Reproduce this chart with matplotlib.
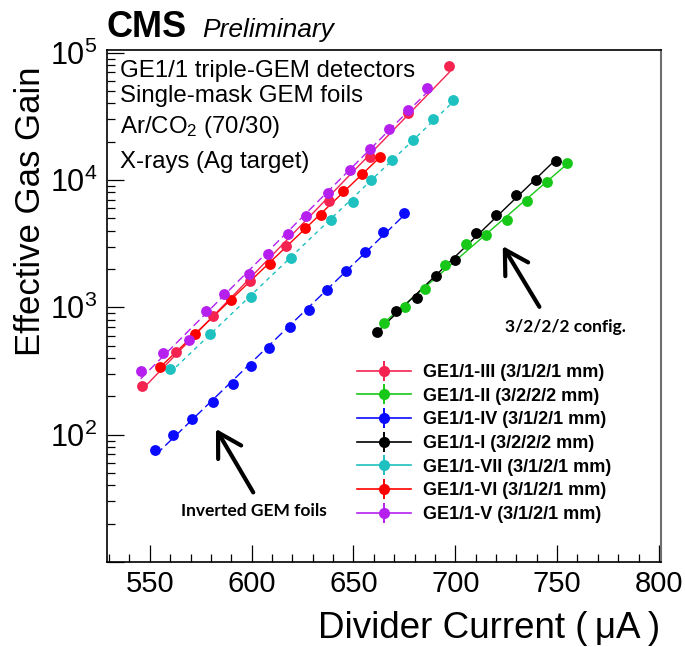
import numpy as np
import matplotlib
matplotlib.use("Agg")
import matplotlib.pyplot as plt
from matplotlib.lines import Line2D
from matplotlib.legend_handler import HandlerTuple
from matplotlib.ticker import LogLocator, MultipleLocator, NullFormatter, FixedLocator, FixedFormatter

plt.rcParams['font.family'] = ['Liberation Sans', 'DejaVu Sans']
plt.rcParams['mathtext.fontset'] = 'custom'
plt.rcParams['mathtext.rm'] = 'Liberation Sans'
plt.rcParams['mathtext.it'] = 'Liberation Sans:italic'
plt.rcParams['mathtext.bf'] = 'Liberation Sans:bold'

# ---- measured gain curves: divider current (uA) vs effective gas gain ----
ge3_current = [546, 563, 581, 599, 617, 638, 658, 677, 697]
ge3_gain = [243, 445, 860, 1610, 3030, 6840, 15100, 33400, 79300]

ge2_current = [665.2, 675.5, 685.3, 695.1, 705.3, 715.1, 725.2, 735.4, 744.9, 754.9]
ge2_gain = [755, 998, 1403, 2147, 3141, 3698, 4854, 6871, 9590, 13680]

ge4_current = [552.7, 561.5, 570.7, 580.8, 591.1, 599.7, 608.6, 618.8, 628.0, 637.0,
               646.3, 655.5, 664.6, 674.6]
ge4_gain = [76.4, 98.9, 132, 182, 251, 347, 481, 695, 951, 1374, 1926, 2702, 3926, 5475]

ge1_current = [661.4, 670.9, 681.0, 690.6, 700.0, 710.2, 720.0, 729.9, 739.7, 749.5]
ge1_gain = [641, 944, 1181, 1757, 2350, 3855, 5307, 7621, 10000, 14100]

ge7_current = [560.0, 579.6, 599.5, 619.5, 639.1, 649.6, 658.5, 669.0, 679.4, 688.9, 699.1]
ge7_gain = [325, 615, 1214, 2428, 4850, 6745, 9945, 14350, 20600, 30200, 42570]

ge6_current = [555, 572, 590, 609, 626, 634, 645, 654, 663]
ge6_gain = [340, 621, 1150, 2190, 4170, 5310, 8130, 11150, 15070]

ge5_current = [545.5, 556.3, 569.1, 577.6, 586.6, 598.7, 607.9, 617.7, 626.7, 637.3,
               648.2, 658.2, 667.3, 677.0, 686.0]
ge5_gain = [315, 438, 559, 937, 1262, 1833, 2604, 3761, 5237, 7855, 11880, 17540,
            25050, 35500, 53200]

labels = ["GE1/1-III (3/1/2/1 mm)", "GE1/1-II (3/2/2/2 mm)", "GE1/1-IV (3/1/2/1 mm)",
          "GE1/1-I (3/2/2/2 mm)", "GE1/1-VII (3/1/2/1 mm)", "GE1/1-VI (3/1/2/1 mm)",
          "GE1/1-V (3/1/2/1 mm)"]

x_ticks = [550, 600, 650, 700, 750, 800]
x_tick_labels = ["550", "600", "650", "700", "750", "800"]
y_ticks = [1e1, 1e2, 1e3, 1e4, 1e5]
y_tick_labels = ["", r"$10^{2}$", r"$10^{3}$", r"$10^{4}$", r"$10^{5}$"]

series = [
    (ge3_current, ge3_gain, "#f5234f", "-"),
    (ge2_current, ge2_gain, "#18c818", "-"),
    (ge4_current, ge4_gain, "#0a0aff", (0, (7, 3))),
    (ge1_current, ge1_gain, "#000000", "-"),
    (ge7_current, ge7_gain, "#1ec0c0", (0, (3, 3))),
    (ge6_current, ge6_gain, "#ff0000", "-"),
    (ge5_current, ge5_gain, "#b520ee", (0, (6, 3))),
]

W, H = 685, 647
fig = plt.figure(figsize=(W / 100, H / 100), dpi=100)
ax = fig.add_axes([107 / W, (H - 562) / H, (661 - 107) / W, (562 - 50) / H])

# exponential fit lines + measured points
for cur, gain, color, ls in series:
    cur = np.asarray(cur, float)
    gain = np.asarray(gain, float)
    coef = np.polyfit(cur, np.log10(gain), 1)
    xx = np.linspace(cur.min(), cur.max(), 100)
    ax.plot(xx, 10 ** np.polyval(coef, xx), color=color, ls=ls, lw=1.0, zorder=2)
for cur, gain, color, ls in series:
    ax.plot(cur, gain, 'o', color=color, ms=7.8, mew=0, zorder=3)

ax.set_yscale('log')
ax.set_xlim(529, 801)
ax.set_ylim(10, 1.05e5)

ax.xaxis.set_major_locator(FixedLocator(x_ticks))
ax.xaxis.set_major_formatter(FixedFormatter(x_tick_labels))
ax.xaxis.set_minor_locator(MultipleLocator(10))
ax.yaxis.set_major_locator(FixedLocator(y_ticks))
ax.yaxis.set_major_formatter(FixedFormatter(y_tick_labels))
ax.yaxis.set_minor_locator(LogLocator(base=10, subs=np.arange(2, 10)))
ax.yaxis.set_minor_formatter(NullFormatter())

ax.tick_params(which='both', direction='in', top=False, right=False, width=0.9)
ax.tick_params(which='major', length=12.5)
ax.tick_params(which='minor', length=6)
ax.tick_params(axis='x', labelsize=21, pad=6)
ax.tick_params(axis='y', labelsize=22, pad=7)
for s in ['left', 'bottom', 'top']:
    ax.spines[s].set_linewidth(1.2)
ax.spines['right'].set_linewidth(1.5)
ax.spines['right'].set_color('#6e6e6e')

# axis titles (right/top aligned)
fig.text(660 / W, 1 - 638 / H, "Divider Current (\u2009\u03bcA\u2009)", fontsize=26.5,
         ha='right', va='baseline', family=['Liberation Sans', 'DejaVu Sans'])
fig.text(31 / W, 1 - 66 / H, "Effective Gas Gain", fontsize=25, rotation=90,
         ha='center', va='top')

# header
fig.text(107 / W, 1 - 37 / H, "CMS", fontsize=26, weight='bold', va='baseline')
fig.text(202 / W, 1 - 37 / H, "Preliminary", fontsize=19, style='italic', va='baseline')

# description
desc = ["GE1/1 triple-GEM detectors", "Single-mask GEM foils",
        r"Ar/CO$_2$ (70/30)", "X-rays (Ag target)"]
desc_base = [77, 102, 133, 168]
for t, yb in zip(desc, desc_base):
    fig.text(120 / W, 1 - yb / H, t, fontsize=17.3, va='baseline')

# legend with line + marker + vertical bar handles
handles = []
for cur, gain, color, ls in series:
    handles.append((Line2D([], [], color=color, lw=1.2),
                    Line2D([], [], color=color, marker='|', ms=15, mew=1.4, ls='none'),
                    Line2D([], [], color=color, marker='o', ms=8, mew=0, ls='none')))
fig.legend(handles, labels, loc='upper left', bbox_to_anchor=(357 / W, 1 - 364 / H),
           frameon=False, handlelength=3.0, handletextpad=0.65, labelspacing=0.37,
           borderpad=0, borderaxespad=0, prop=dict(weight='bold', size=13),
           handler_map={tuple: HandlerTuple(ndivide=1, pad=0)})

# annotations
arrow = dict(arrowstyle='->,head_length=0.55,head_width=0.32', lw=3, color='black',
             mutation_scale=30, shrinkA=0, shrinkB=0)
ax.annotate("", xy=(723.3, 3027), xytext=(741.3, 1009), arrowprops=arrow)
ax.text(754, 707, "3/2/2/2 config.", fontsize=12.5, weight='bold', family=['Lato', 'DejaVu Sans'],
        ha='center', va='center')
ax.annotate("", xy=(582.5, 111), xytext=(600.8, 35.2), arrowprops=arrow)
ax.text(601, 25, "Inverted GEM foils", fontsize=12.5, weight='bold', family=['Lato', 'DejaVu Sans'],
        ha='center', va='center')

fig.savefig("out.png", dpi=100)
